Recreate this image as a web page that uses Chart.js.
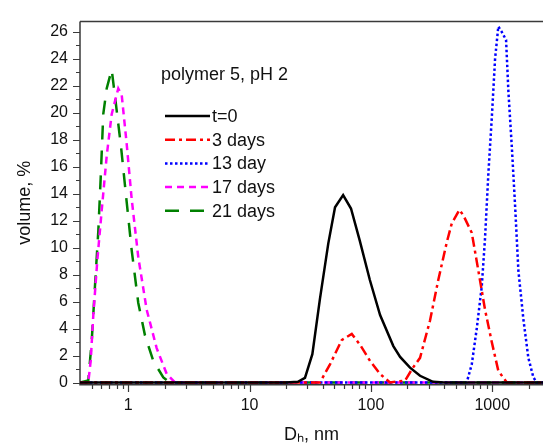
<!DOCTYPE html>
<html><head><meta charset="utf-8">
<script src="https://cdn.jsdelivr.net/npm/chart.js@4/dist/chart.umd.min.js"></script>
<style>html,body{margin:0;padding:0;background:#fff}#wrap{width:544px;height:446px}</style>
</head><body><div id="wrap"><canvas id="c" width="544" height="446"></canvas></div>
<script>
// ---- data (Dh in nm, volume in %) ----
const seriesNames = ['t=0', '3 days', '13 day', '17 days', '21 days'];
const panelNote = 'polymer 5, pH 2';
const xTickValues = [1, 10, 100, 1000];
const xMinorValues = [0.5,0.6,0.7,0.8,0.9,2,3,4,5,6,7,8,9,20,30,40,50,60,70,80,90,200,300,400,500,600,700,800,900,2000];
const yTickValues = [0,2,4,6,8,10,12,14,16,18,20,22,24,26];
const yMinorValues = [1,3,5,7,9,11,13,15,17,19,21,23,25];

const dh_t0  = [0.4, 20, 25, 28.6, 32.9, 38, 44.5, 50.6, 59, 68.5, 81, 98, 119, 153, 174, 210, 254, 325, 400, 2620];
const vol_t0 = [0, 0, 0.05, 0.35, 2.1, 6.2, 10.3, 13.0, 13.9, 12.9, 10.5, 7.6, 5.0, 2.7, 1.9, 1.1, 0.5, 0.05, 0, 0];

const dh_3d  = [0.4, 38, 46, 57.5, 69.5, 81.3, 98.3, 119, 143.6, 191, 222, 254, 307, 359, 422, 464, 536, 578, 678, 768, 872, 991, 1122, 1318, 2620];
const vol_3d = [0, 0, 1.35, 3.15, 3.6, 2.8, 1.6, 0.63, 0, 0.14, 1.1, 1.83, 4.6, 7.6, 10.4, 11.8, 12.8, 12.4, 11.1, 8.3, 5.4, 3.0, 0.87, 0, 0];

const dh_13d  = [0.4, 616, 678, 745, 819, 872, 929, 991, 1055, 1122, 1197, 1300, 1358, 1449, 1543, 1642, 1805, 1984, 2183, 2328, 2620];
const vol_13d = [0, 0, 1.35, 4.0, 7.1, 10.7, 15.5, 19.6, 24.0, 26.4, 26.0, 25.4, 21.6, 17.5, 13.1, 8.3, 4.7, 1.83, 0.38, 0, 0];

const dh_17d  = [0.4, 0.468, 0.490, 0.515, 0.555, 0.603, 0.664, 0.730, 0.827, 0.883, 0.970, 1.067, 1.209, 1.418, 1.714, 2.074, 2.427, 2620];
const vol_17d = [0, 0, 1.6, 5.0, 9.0, 12.7, 16.8, 19.9, 21.8, 21.3, 17.7, 13.6, 9.3, 5.4, 2.55, 0.63, 0, 0];

const dh_21d  = [0.4, 0.468, 0.499, 0.531, 0.566, 0.592, 0.622, 0.664, 0.730, 0.792, 0.871, 0.957, 1.067, 1.209, 1.373, 1.607, 1.944, 2.207, 2620];
const vol_21d = [0, 0.15, 3.0, 7.1, 11.2, 15.1, 19.9, 21.8, 23.2, 20.6, 17.5, 13.9, 9.8, 5.9, 3.5, 1.6, 0.38, 0, 0];

const pts = (xs, ys) => xs.map((x, i) => ({x: x, y: ys[i]}));

const styles = [
  {color: '#000000', dash: [], width: 2.5},
  {color: '#ff0000', dash: [10, 4, 3, 4], width: 2.5},
  {color: '#0000ff', dash: [2.5, 2.5], width: 2.5},
  {color: '#ff00ff', dash: [7, 5], width: 2.5},
  {color: '#008000', dash: [14, 11], width: 2.5}
];
const allX = [dh_t0, dh_3d, dh_13d, dh_17d, dh_21d];
const allY = [vol_t0, vol_3d, vol_13d, vol_17d, vol_21d];

const datasets = seriesNames.map((n, i) => ({
  label: n,
  data: pts(allX[i], allY[i]),
  showLine: true,
  borderColor: styles[i].color,
  backgroundColor: styles[i].color,
  borderWidth: styles[i].width,
  borderDash: styles[i].dash,
  pointRadius: 0,
  tension: 0,
  fill: false
}));

const FONT = '"Liberation Sans", Arial, sans-serif';

const framePlugin = {
  id: 'frame',
  beforeDatasetsDraw(chart) {
    const {ctx, chartArea: a, scales: {x, y}} = chart;
    ctx.save();
    ctx.strokeStyle = '#3a3a3a';
    ctx.lineWidth = 1.5;
    ctx.beginPath();
    ctx.moveTo(a.left, a.top); ctx.lineTo(a.left, a.bottom + 0.75); ctx.lineTo(a.right, a.bottom + 0.75);
    ctx.moveTo(a.left, a.top); ctx.lineTo(a.right, a.top);
    ctx.stroke();
    ctx.lineWidth = 1.2;
    ctx.beginPath();
    yTickValues.forEach(v => { const p = Math.round(y.getPixelForValue(v)) + 0.5; ctx.moveTo(a.left, p); ctx.lineTo(a.left - 7, p); });
    yMinorValues.forEach(v => { const p = Math.round(y.getPixelForValue(v)) + 0.5; ctx.moveTo(a.left, p); ctx.lineTo(a.left - 4, p); });
    xTickValues.forEach(v => { const p = Math.round(x.getPixelForValue(v)) + 0.5; ctx.moveTo(p, a.bottom); ctx.lineTo(p, a.bottom + 8); });
    xMinorValues.forEach(v => { const p = Math.round(x.getPixelForValue(v)) + 0.5; ctx.moveTo(p, a.bottom); ctx.lineTo(p, a.bottom + 5); });
    ctx.stroke();
    ctx.restore();
  }
};

const legendPlugin = {
  id: 'customLegend',
  afterDatasetsDraw(chart) {
    const ctx = chart.ctx;
    ctx.save();
    ctx.fillStyle = '#111';
    ctx.font = '18px ' + FONT;
    ctx.textBaseline = 'middle';
    ctx.textAlign = 'left';
    ctx.fillText(panelNote, 161, 75);
    chart.data.datasets.forEach((ds, i) => {
      const yy = 116 + i * 23.7;
      ctx.save();
      ctx.strokeStyle = ds.borderColor;
      ctx.lineWidth = ds.borderWidth;
      ctx.setLineDash(ds.borderDash);
      ctx.beginPath();
      ctx.moveTo(165, yy); ctx.lineTo(210, yy);
      ctx.stroke();
      ctx.restore();
      ctx.fillText(ds.label, 212, yy + 1);
    });
    ctx.restore();
  }
};

new Chart(document.getElementById('c'), {
  type: 'scatter',
  data: {datasets: datasets},
  options: {
    responsive: false,
    animation: false,
    devicePixelRatio: 1,
    layout: {padding: {left: 0, right: 1, top: 12, bottom: 0}},
    plugins: {legend: {display: false}, tooltip: {enabled: false}},
    scales: {
      x: {
        type: 'logarithmic',
        min: 0.4, max: 2620,
        grid: {display: false, drawTicks: false, tickLength: 0},
        border: {display: false},
        afterBuildTicks: s => { s.ticks = xTickValues.map(v => ({value: v})); },
        afterFit: s => { s.height = 62; },
        ticks: {
          autoSkip: false, maxRotation: 0, padding: 12, color: '#111',
          font: {family: FONT, size: 16},
          callback: v => String(v)
        },
        title: {display: true, text: 'Dₕ, nm', color: '#111', font: {family: FONT, size: 18}, padding: {top: 0, bottom: 0}}
      },
      y: {
        type: 'linear',
        min: -0.11, max: 26.76,
        grid: {display: false, drawTicks: false, tickLength: 0},
        border: {display: false},
        afterBuildTicks: s => { s.ticks = yTickValues.map(v => ({value: v})); },
        afterFit: s => { s.width = 80; },
        ticks: {
          autoSkip: false, padding: 12, color: '#111',
          font: {family: FONT, size: 16},
          callback: v => String(v)
        },
        title: {display: true, text: 'volume, %', color: '#111', font: {family: FONT, size: 18}, padding: {top: 14, bottom: 0}}
      }
    }
  },
  plugins: [framePlugin, legendPlugin]
});
</script>
</body></html>
